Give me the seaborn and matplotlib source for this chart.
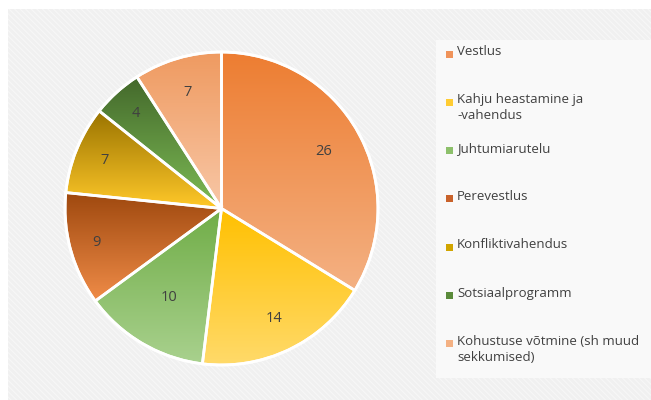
import numpy as np
import matplotlib.pyplot as plt
import seaborn as sns
from matplotlib.colors import LinearSegmentedColormap
from matplotlib.patches import Rectangle

# values
labels = ['Vestlus', 'Kahju heastamine ja\n-vahendus', 'Juhtumiarutelu', 'Perevestlus',
          'Konfliktivahendus', 'Sotsiaalprogramm', 'Kohustuse võtmine (sh muud\nsekkumised)']
counts = [26, 14, 10, 9, 7, 4, 7]
# gradient top / bottom colour for each slice
top_colors = ['#ED7D31', '#FFC000', '#70AD47', '#9E480E', '#997300', '#43682B', '#EF9A60']
bottom_colors = ['#F4B183', '#FFDA6A', '#A9D18E', '#F08C48', '#FFC829', '#7DBB55', '#F8C7A6']
legend_colors = ['#F0935A', '#FFCC33', '#8DC06B', '#C9622B', '#D1A500', '#5A8A3A', '#F4B183']
# how far from the centre each value label sits (fraction of radius)
label_dist = [0.75, 0.78, 0.66, 0.83, 0.81, 0.82, 0.77]

sns.set_style('white')
plt.rcParams['font.family'] = ['Open Sans', 'DejaVu Sans']
plt.rcParams['hatch.linewidth'] = 0.8
text_col = '#404040'

fig = plt.figure(figsize=(6.51, 4.0), dpi=100)
fig.patch.set_facecolor('white')

# hatched light-grey chart area
fig.add_artist(Rectangle((8 / 651, 0), 1, 1 - 9 / 400, transform=fig.transFigure,
                         facecolor='#f0f0f0', edgecolor='#f7f7f7', hatch='\\\\\\\\\\\\',
                         lw=0, zorder=0))

ax = fig.add_axes([61.5 / 651, 31.5 / 400, 320 / 651, 320 / 400])
ax.set_facecolor('none')
wedges, _, autotexts = ax.pie(counts, startangle=90, counterclock=False, radius=1,
                              autopct=lambda p: '%d' % round(p * sum(counts) / 100),
                              wedgeprops=dict(edgecolor='white', linewidth=2),
                              textprops=dict(color=text_col, fontsize=10.5))
lim = 160 / 156.5

# vertical gradient inside each wedge
for w, c0, c1, txt, d in zip(wedges, top_colors, bottom_colors, autotexts, label_dist):
    t = np.deg2rad(np.linspace(w.theta1, w.theta2, 200))
    xs = np.concatenate([[0], np.cos(t)])
    ys = np.concatenate([[0], np.sin(t)])
    cmap = LinearSegmentedColormap.from_list('g', [c0, c1])
    grad = np.linspace(0, 1, 256).reshape(-1, 1)
    im = ax.imshow(grad, cmap=cmap, aspect='auto', origin='upper',
                   extent=[xs.min(), xs.max(), ys.min(), ys.max()], zorder=1)
    im.set_clip_path(w)
    w.set_facecolor('none')
    w.set_zorder(2)
    mid = np.deg2rad((w.theta1 + w.theta2) / 2)
    txt.set_position((d * np.cos(mid), d * np.sin(mid)))
    txt.set_zorder(3)
ax.set_xlim(-lim, lim)
ax.set_ylim(-lim, lim)
ax.axis('off')

# outer white ring
ax.add_patch(plt.Circle((0, 0), 1, fill=False, edgecolor='white', lw=2, zorder=2))

# legend box
fig.add_artist(Rectangle((436 / 651, 1 - 378 / 400), 1, 338 / 400, transform=fig.transFigure,
                         facecolor='#f9f9f9', edgecolor='none', zorder=1))
for i, (lab, col) in enumerate(zip(labels, legend_colors)):
    y = 1 - (54 + i * 48.3) / 400
    fig.add_artist(Rectangle((446 / 651, y - 3.5 / 400), 7 / 651, 7 / 400,
                             transform=fig.transFigure, facecolor=col, edgecolor='none', zorder=2))
    fig.text(457 / 651, y + 9 / 400, lab, fontsize=9.5, color=text_col, va='top', ha='left',
             linespacing=1.3, zorder=3)

fig.savefig('out.png', dpi=100, facecolor=fig.get_facecolor())
